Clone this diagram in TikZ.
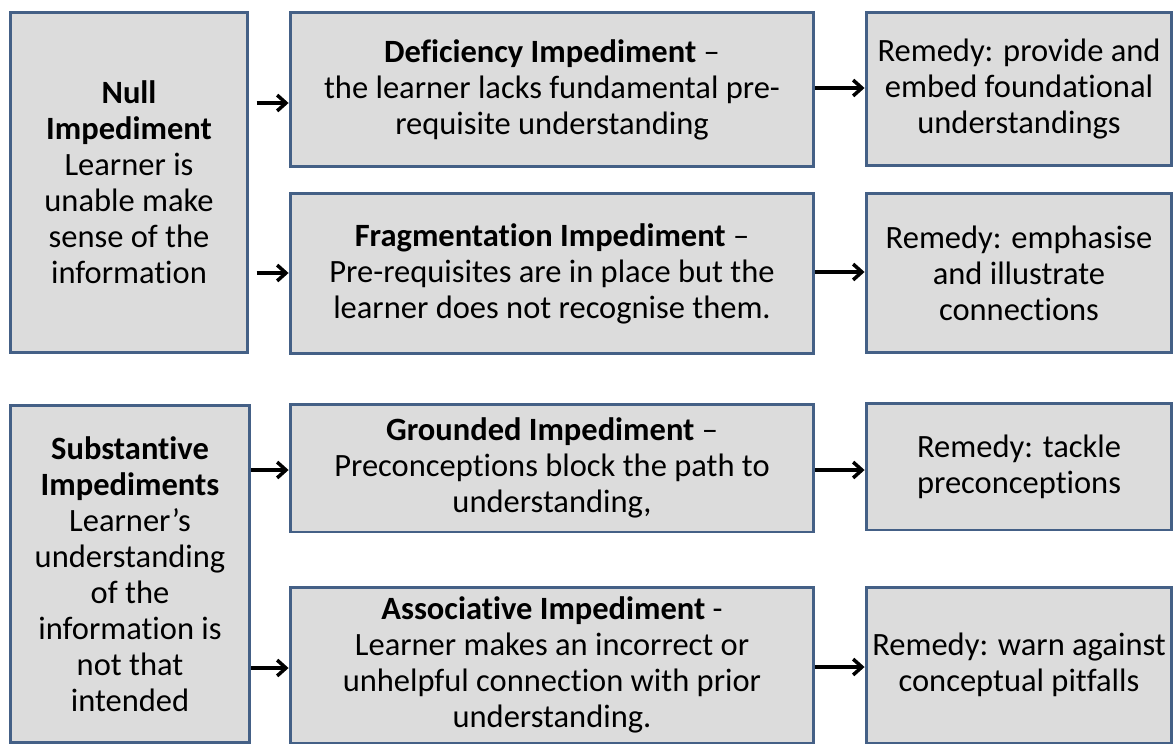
\documentclass[tikz,border=0pt]{standalone}
\usepackage{fontspec}
\setmainfont{Carlito}[Ligatures=NoCommon]
\usetikzlibrary{arrows.meta}

\definecolor{boxfill}{RGB}{220,220,220}
\definecolor{boxline}{RGB}{68,96,134}

\tikzset{
    box/.style={draw=boxline, line width=1.7pt, fill=boxfill, rectangle, align=center,
        font=\fontsize{18.5}{20.5}\selectfont, inner sep=2pt},
    arr/.style={-{Straight Barb[length=5pt, width=9pt, line width=2pt]}, line width=2pt, black}
}

\begin{document}
\begin{tikzpicture}[x=0.02cm, y=-0.02cm]
\useasboundingbox (0,0) rectangle (1173,744);

% impediment types
\node[box, minimum width=4.76cm, minimum height=6.82cm] (null) at (129,182.5) {
    \textbf{Null}\\
    \textbf{Impediment}\\
    Learner is\\
    unable make\\
    sense of the\\
    information
};
\node[box, minimum width=4.8cm, minimum height=6.76cm] (subst) at (130,574) {
    \textbf{Substantive}\\
    \textbf{Impediments}\\
    Learner’s\\
    understanding\\
    of the\\
    information is\\
    not that\\
    intended
};

% sub-types
\node[box, minimum width=10.48cm, minimum height=3.1cm] (defic) at (552,89.5) {
    \textbf{Deficiency Impediment} –\\
    the learner lacks fundamental pre-\\
    requisite understanding
};
\node[box, minimum width=10.48cm, minimum height=3.22cm] (frag) at (552,273.5) {
    \textbf{Fragmentation Impediment} –\\
    Pre-requisites are in place but the\\
    learner does not recognise them.
};
\node[box, minimum width=10.48cm, minimum height=2.56cm] (ground) at (552,468) {
    \textbf{Grounded Impediment} –\\
    Preconceptions block the path to\\
    understanding,
};
\node[box, minimum width=10.48cm, minimum height=3.12cm] (assoc) at (552,665) {
    \textbf{Associative Impediment} -\\
    Learner makes an incorrect or\\
    unhelpful connection with prior\\
    understanding.
};

% remedies
\node[box, minimum width=6.12cm, minimum height=3.08cm] (remdefic) at (1019,89) {
    Remedy: provide and\\
    embed foundational\\
    understandings
};
\node[box, minimum width=6.12cm, minimum height=3.2cm] (remfrag) at (1019,273) {
    Remedy: emphasise\\
    and illustrate\\
    connections
};
\node[box, minimum width=6.12cm, minimum height=2.54cm] (remground) at (1019,466.5) {
    Remedy: tackle\\
    preconceptions
};
\node[box, minimum width=6.12cm, minimum height=3.12cm] (remassoc) at (1019,665) {
    Remedy: warn against\\
    conceptual pitfalls
};

\draw[arr, shorten <=4pt] (null.east |- 0,103) -- (defic.west |- 0,103);
\draw[arr, shorten <=4pt] (null.east |- 0,273) -- (frag.west |- 0,273);
\draw[arr] (subst.east |- 0,470) -- (ground.west |- 0,470);
\draw[arr] (subst.east |- 0,668) -- (assoc.west |- 0,668);

\draw[arr] (defic.east |- 0,88) -- (remdefic.west |- 0,88);
\draw[arr] (frag.east |- 0,272) -- (remfrag.west |- 0,272);
\draw[arr] (ground.east |- 0,470) -- (remground.west |- 0,470);
\draw[arr] (assoc.east |- 0,667) -- (remassoc.west |- 0,667);
\end{tikzpicture}
\end{document}
